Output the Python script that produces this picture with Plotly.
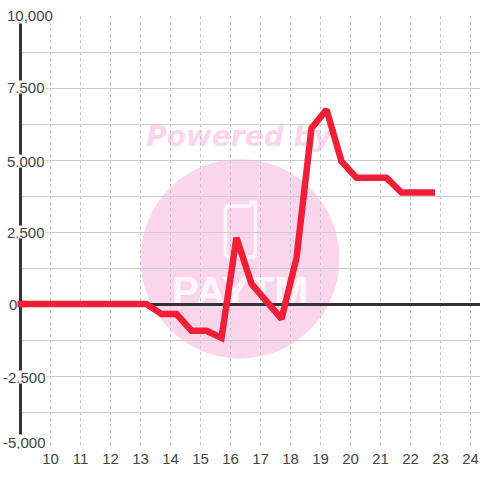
import plotly.graph_objects as go

hours = [8.88, 9.2, 9.7, 10.2, 10.7, 11.2, 11.7, 12.2, 12.7, 13.2, 13.7, 14.2, 14.7, 15.2, 15.7,
         16.2, 16.7, 17.7, 18.2, 18.7, 19.2, 19.7, 20.2, 20.7, 21.2, 21.7, 22.2, 22.82]
values = [0, 0, 0, 0, 0, 0, 0, 0, 0, 0, -350, -350, -930, -930, -1180,
          2300, 700, -520, 1600, 6100, 6750, 4950, 4380, 4380, 4380, 3870, 3870, 3870]
x_ticks = list(range(10, 25))
y_ticks = [10000, 7500, 5000, 2500, 0, -2500, -5000]
y_labels = ["10,000", "7,500", "5,000", "2,500", "0", "-2,500", "-5,000"]

W, H = 480, 480
L, T, B = 22, 16, 32
x0 = 10 + (L - 50.5) / 30
x1 = 10 + (480 - 50.5) / 30
INK = "#333333"
TEXT = "#444444"
PINK = "#fbd5ec"
PALE = "#fff6fb"
RED = "#f01f36"
px = lambda p: 10 + (p - 50.5) / 30
py = lambda p: (304 - p) / 0.0288
to_paper = lambda h: (h - x0) / (x1 - x0)

fig = go.Figure(go.Scatter(x=hours, y=values, mode="lines", cliponaxis=False,
                           line=dict(color=RED, width=6.5), hoverinfo="skip"))

phone = (f"M {px(229)} {py(206)} L {px(249)} {py(206)} Q {px(251)} {py(206)} {px(251)} {py(204)} "
         f"L {px(251)} {py(202)} L {px(255.5)} {py(202)} L {px(255.5)} {py(253)} "
         f"Q {px(255.5)} {py(257)} {px(252)} {py(257)} L {px(229)} {py(257)} "
         f"Q {px(225.5)} {py(257)} {px(225.5)} {py(253)} L {px(225.5)} {py(210)} "
         f"Q {px(225.5)} {py(206)} {px(229)} {py(206)} Z")

shapes = [
    dict(type="circle", xref="x", yref="y", x0=px(140.5), x1=px(339.5), y0=py(159), y1=py(358.5),
         fillcolor=PINK, line_width=0, layer="below"),
    dict(type="rect", xref="x", yref="y", x0=px(139), x1=px(339), y0=py(119), y1=py(149),
         fillcolor="rgba(0,0,0,0)", line_width=0, layer="below",
         label=dict(text="<b><i>Powered by</i></b>", font=dict(family="DejaVu Sans", size=28, color=PINK),
                    textposition="middle center")),
    dict(type="rect", xref="x", yref="y", x0=px(140), x1=px(340), y0=py(265), y1=py(309),
         fillcolor="rgba(0,0,0,0)", line_width=0, layer="below",
         label=dict(text="<b>PAYTM</b>", font=dict(family="Liberation Sans", size=41, color=PALE),
                    textposition="middle center")),
    dict(type="path", xref="x", yref="y", layer="below", path=phone,
         fillcolor="rgba(0,0,0,0)", line=dict(color=PALE, width=3.5)),
    # the series' first stretch runs left over the axis line, past the clip of the plot area
    dict(type="line", xref="paper", yref="y", x0=to_paper(hours[0]), x1=to_paper(hours[1]),
         y0=values[0], y1=values[1], line=dict(color=RED, width=6.5), layer="above"),
]

offsets = [6, 6, 6, 6, 8, 2, 2]
shifts = [0.6, 0.7, -1, 0, 0, -0.7, 6]
heights = [16, 12, 12, 12, 12, 12, 14]
annotations = [
    dict(xref="paper", yref="y", x=0, y=v, text=t, showarrow=False, xanchor="left",
         xshift=o - L, yshift=s, height=h, borderpad=0, bgcolor="white",
         font=dict(family="Liberation Sans", size=15, color=TEXT))
    for v, t, o, s, h in zip(y_ticks, y_labels, offsets, shifts, heights)
]

fig.update_layout(
    width=W, height=H, margin=dict(l=L, r=0, t=T, b=B, pad=0, autoexpand=False),
    paper_bgcolor="white", plot_bgcolor="white", showlegend=False,
    shapes=shapes, annotations=annotations,
    font=dict(family="Liberation Sans", size=15, color=TEXT),
    xaxis=dict(range=[x0, x1], tickmode="array", tickvals=x_ticks, ticks="", showline=False,
               showgrid=True, gridcolor="#c4c4c4", griddash="3px,3px", gridwidth=1, zeroline=False,
               tickfont=dict(size=15, color=TEXT), layer="below traces"),
    yaxis=dict(range=[-5000, 10000], tick0=0, dtick=1250, showticklabels=False, ticks="",
               showgrid=True, gridcolor="#cccccc", gridwidth=1, showline=True, linecolor=INK, linewidth=3,
               zeroline=True, zerolinecolor=INK, zerolinewidth=3, layer="below traces"),
)
post = "document.body.style.margin='0';document.body.style.overflow='hidden';"
fig.write_html("out.html", config=dict(displayModeBar=False), post_script=post)
